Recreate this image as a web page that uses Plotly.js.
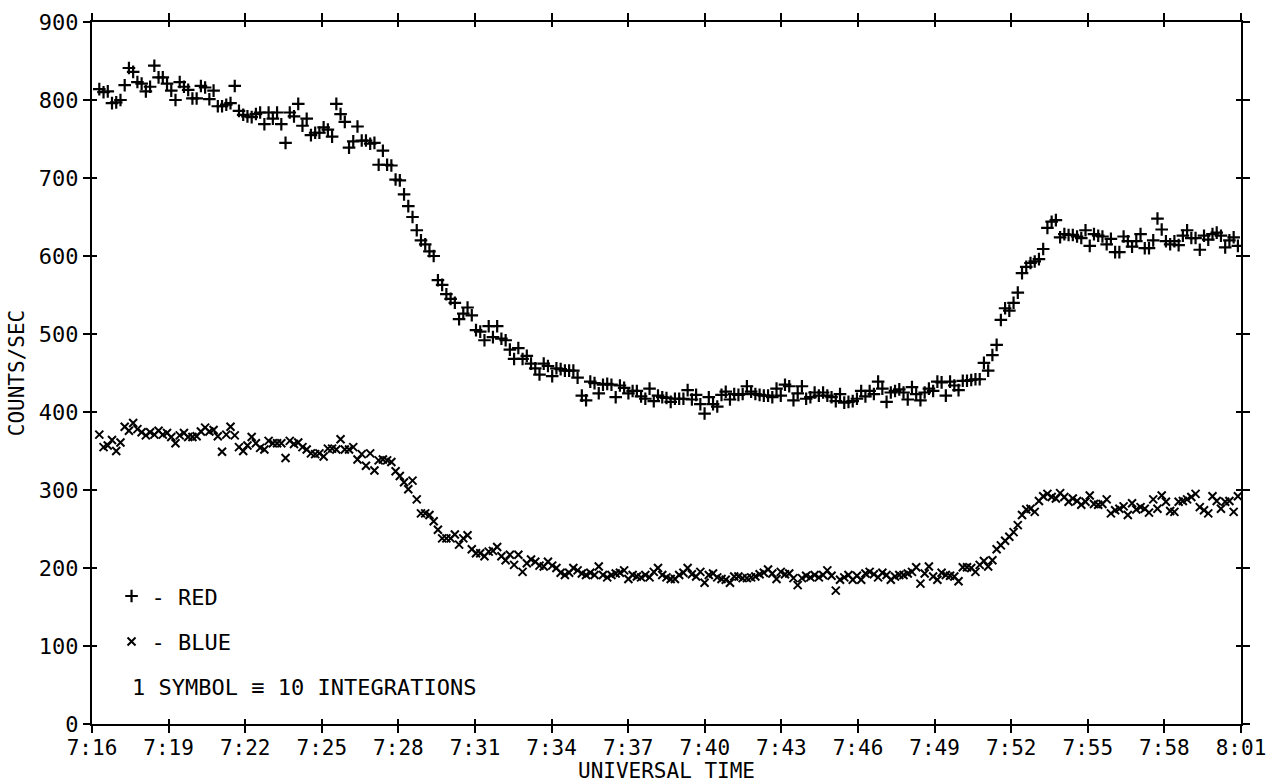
<!DOCTYPE html>
<html>
<head>
<meta charset="utf-8">
<script src="https://cdn.plot.ly/plotly-3.0.1.min.js"></script>
<style>
  html, body { margin: 0; padding: 0; background: #ffffff; }
  #chart { width: 1273px; height: 783px; }
</style>
</head>
<body>
<div id="chart"></div>
<script>
// Time axis: minutes after 7:16 UT, tick every 3 minutes
const tickMinutes = [0, 3, 6, 9, 12, 15, 18, 21, 24, 27, 30, 33, 36, 39, 42, 45];
const tickLabels = ["7:16", "7:19", "7:22", "7:25", "7:28", "7:31", "7:34", "7:37",
                    "7:40", "7:43", "7:46", "7:49", "7:52", "7:55", "7:58", "8:01"];
const countTicks = [0, 100, 200, 300, 400, 500, 600, 700, 800, 900];

// Sampling: one symbol per 10 integrations (~10 s), first symbol at ~7:16:17
const firstSymbolMinute = 0.286;
const symbolStepMinutes = 0.16577;

// RED counts/sec (one value per symbol)
const redCounts = [
  814, 810, 811, 796, 797, 800, 819, 841, 836, 823, 821, 811, 817, 844, 829, 829, 821, 812, 800, 823,
  817, 813, 802, 802, 818, 816, 801, 812, 792, 792, 794, 796, 818, 786, 781, 779, 778, 782, 784, 769,
  784, 776, 784, 769, 745,
  784, 779, 795, 767, 776, 755, 758, 758, 765, 762, 753, 795, 782, 772, 739, 747, 766, 748, 748, 744,
  745, 717, 735, 717, 716, 698, 697, 679, 664, 650, 633, 620, 615, 606, 600, 569,
  563, 551, 545, 540, 519, 526, 534, 524, 505, 503, 492, 510, 496, 510, 494, 492, 480, 468, 482, 468,
  472, 462, 456, 448, 462, 459, 446, 456, 455, 453, 453, 453, 444, 421, 415, 439, 437, 424, 435, 436,
  435, 419, 434, 431, 424, 427, 427, 420, 417, 430, 414, 421, 419, 418, 413, 417, 417, 417, 428, 416,
  422, 410, 398, 419, 410, 407, 422, 426, 416, 423, 422, 423, 433, 426, 423, 422, 421, 421, 419, 430,
  421, 435, 433, 415, 424, 433, 417, 419, 425, 421, 425, 421, 419, 414, 423, 412, 413, 414, 417, 427,
  420, 427, 423, 439, 430, 413, 425, 427, 429, 425, 416, 432, 423, 415, 425, 430, 427, 439, 438, 421,
  439, 434, 428,
  440, 440, 441, 442, 442, 463, 453, 473, 486, 518, 533, 530, 540, 553, 578, 586, 591, 593, 596, 609,
  636, 644, 646, 624, 628, 627, 627, 625, 623, 633, 613, 628, 626, 625, 615, 622, 605, 605, 625, 619,
  612, 619, 628, 610, 610, 620, 648, 634, 619, 615, 619, 614, 626, 633, 623, 623, 608, 626, 621, 628,
  630, 626, 611, 620, 624, 613
];

// BLUE counts/sec (one value per symbol)
const blueCounts = [
  371, 355, 357, 364, 350, 361, 381, 376, 386, 378, 374, 370, 374, 371, 376, 371, 373, 368, 360, 370,
  373, 368, 368, 369, 375, 380, 375, 377, 369, 349, 371, 381, 370, 355, 350, 357, 368, 360, 354, 352,
  363, 360, 360, 360, 341,
  363, 359, 361, 355, 352, 347, 346, 347, 343, 353, 353, 352, 365, 352, 352, 355, 339, 346, 331, 347,
  325, 338, 339, 338, 336, 324, 318, 310, 301, 312, 288, 270, 270, 268, 260, 249,
  238, 238, 238, 243, 230, 238, 242, 224, 219, 219, 215, 221, 222, 227, 215, 210, 217, 204, 217, 195,
  206, 211, 208, 203, 202, 208, 203, 200, 194, 191, 194, 200, 197, 193, 191, 194, 191, 202, 191, 188,
  191, 193, 194, 197, 186, 191, 189, 188, 191, 188, 195, 200, 191, 188, 186, 186, 191, 194, 200, 192,
  189, 195, 181, 191, 193, 188, 186, 185, 181, 189, 189, 187, 187, 188, 189, 192, 194, 198, 193, 186,
  195, 192, 193, 187, 178, 187, 190, 188, 191, 188, 191, 197, 190, 171, 185, 188, 191, 185, 190, 185,
  193, 195, 192, 188, 194, 191, 185, 189,
  191, 191, 193, 195, 201, 180, 193, 202, 189, 185, 194, 191, 190, 189, 183,
  201, 201, 200, 195, 204, 209, 202, 210, 224, 229, 235, 240, 246, 255, 268, 275, 276, 272, 286, 292,
  295, 291, 289, 296, 291, 285, 289, 286, 281, 285, 293, 282, 281, 282, 288, 270, 274, 276, 279, 268,
  283, 275, 278, 276, 271, 288, 276, 293, 285, 273, 272, 285, 286, 288, 291, 295, 278, 274, 270, 292,
  286, 276, 285, 286, 272, 292
];

const redTimes = redCounts.map((_, i) => firstSymbolMinute + i * symbolStepMinutes);
const blueTimes = blueCounts.map((_, i) => firstSymbolMinute + i * symbolStepMinutes);

const FONT = "DejaVu Sans Mono, Liberation Mono, monospace";

const traces = [
  {
    type: "scatter", mode: "markers", name: "- RED",
    x: redTimes, y: redCounts, legendgroup: "r",
    marker: { symbol: "cross-thin-open", size: 9, color: "#000", line: { color: "#000", width: 2.2 } }
  },
  {
    type: "scatter", mode: "markers", name: "- BLUE",
    x: blueTimes, y: blueCounts, legendgroup: "b",
    marker: { symbol: "x-thin-open", size: 8, color: "#000", line: { color: "#000", width: 2 } }
  },
  { type: "scatter", mode: "markers", x: [], y: [], xaxis: "x2", yaxis: "y2", showlegend: false, hoverinfo: "skip" }
];

const axisCommon = {
  showgrid: false, zeroline: false, showline: true, linecolor: "#000", linewidth: 2,
  tickcolor: "#000", tickwidth: 2, mirror: "ticks", tickmode: "array"
};

const layout = {
  width: 1273, height: 783,
  paper_bgcolor: "#fff", plot_bgcolor: "#fff",
  margin: { l: 92, r: 32, t: 22, b: 59 },
  font: { family: FONT, size: 22, color: "#000" },
  showlegend: true,
  legend: {
    x: 0.017, y: 0.212, xanchor: "left", yanchor: "top",
    bgcolor: "rgba(0,0,0,0)", borderwidth: 0,
    font: { family: FONT, size: 22, color: "#000" },
    traceorder: "grouped", tracegroupgap: 14, itemwidth: 30
  },
  xaxis: Object.assign({}, axisCommon, {
    range: [0, 45], tickvals: tickMinutes, ticktext: tickLabels,
    ticks: "outside", ticklen: 7, ticklabelstandoff: -3,
    tickfont: { family: FONT, size: 21, color: "#000" },
    title: { text: "UNIVERSAL TIME", font: { family: FONT, size: 21, color: "#000" }, standoff: 2 }
  }),
  yaxis: Object.assign({}, axisCommon, {
    range: [0, 900], tickvals: countTicks, ticktext: countTicks.map(String),
    ticks: "outside", ticklen: 7,
    tickfont: { family: FONT, size: 22, color: "#000" },
    title: { text: "COUNTS/SEC", font: { family: FONT, size: 21, color: "#000" }, standoff: 8 }
  }),
  xaxis2: Object.assign({}, axisCommon, {
    overlaying: "x", anchor: "y2", range: [0, 45], tickvals: tickMinutes,
    ticks: "inside", ticklen: 5, showticklabels: false
  }),
  yaxis2: Object.assign({}, axisCommon, {
    overlaying: "y", anchor: "x2", range: [0, 900], tickvals: countTicks,
    ticks: "inside", ticklen: 5, showticklabels: false
  }),
  annotations: [
    {
      xref: "paper", yref: "paper", x: 0.033, y: 0.052, xanchor: "left", yanchor: "middle",
      text: "1 SYMBOL \u2261 10 INTEGRATIONS", showarrow: false,
      font: { family: FONT, size: 22, color: "#000" }
    }
  ]
};

Plotly.newPlot("chart", traces, layout, { displayModeBar: false, staticPlot: true });
</script>
</body>
</html>
